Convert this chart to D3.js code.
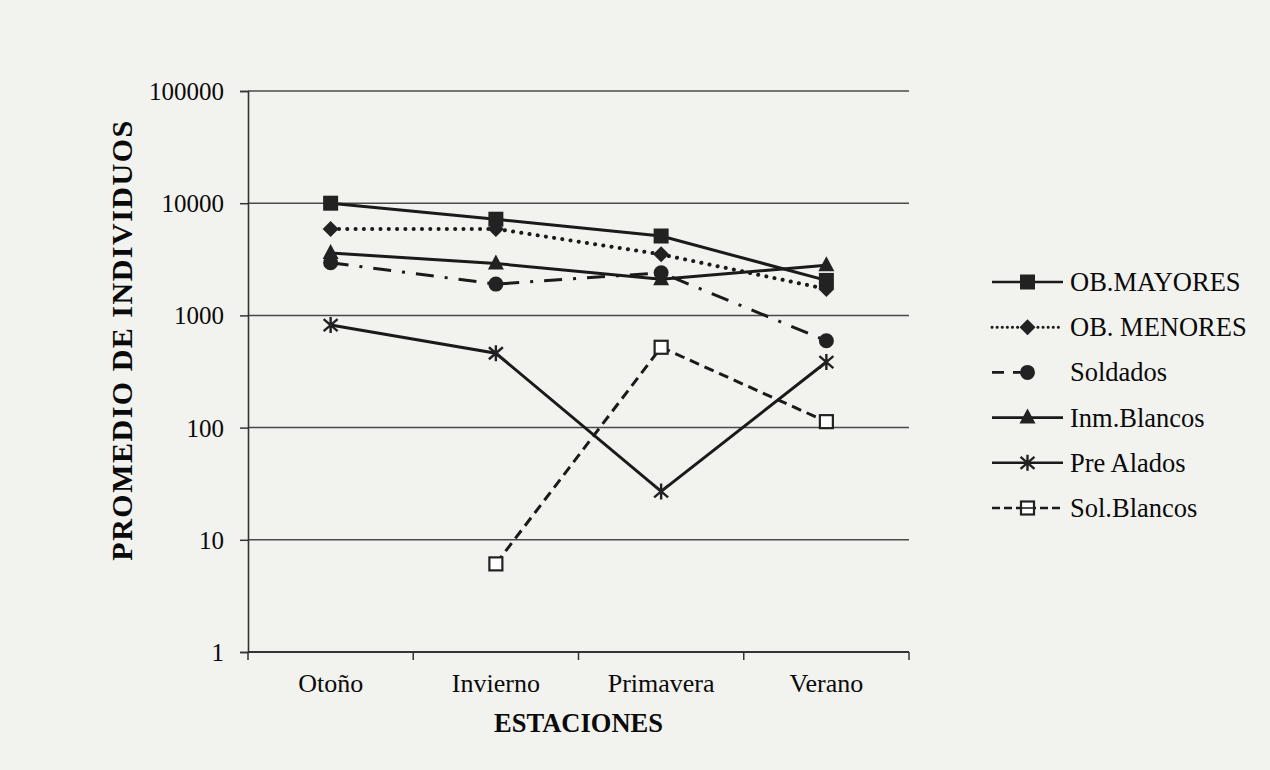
<!DOCTYPE html>
<html>
<head>
<meta charset="utf-8">
<script src="https://cdn.jsdelivr.net/npm/d3@7"></script>
<style>
  body { margin: 0; background: #f2f2ef; }
  svg { display: block; }
  text { font-family: "Liberation Serif", "Times New Roman", serif; fill: #0a0a0a; }
</style>
</head>
<body>
<svg id="chart" width="1270" height="770"></svg>
<script>
// data
const estaciones = ["Otoño", "Invierno", "Primavera", "Verano"];
const yTicks = [1, 10, 100, 1000, 10000, 100000];

const obMayores   = [10000, 7200, 5100, 2050];
const obMenores   = [5900, 5900, 3500, 1720];
const soldados    = [2950, 1900, 2400, 595];
const inmBlancos  = [3600, 2900, 2100, 2800];
const preAlados   = [820, 460, 27, 384];
const solBlancos  = [null, 6.1, 520, 113];

const series = [
  { name: "OB.MAYORES",  values: obMayores,  dash: null,          legendDash: null,              marker: "square" },
  { name: "OB. MENORES", values: obMenores,  dash: "0.1 8.2",     legendDash: "0.1 5",           marker: "diamond", round: true },
  { name: "Soldados",    values: soldados,   dash: "18 11 3 11",  legendDash: "12 9 0 0 14 100", marker: "circle" },
  { name: "Inm.Blancos", values: inmBlancos, dash: null,          legendDash: null,              marker: "triangle" },
  { name: "Pre Alados",  values: preAlados,  dash: null,          legendDash: null,              marker: "star" },
  { name: "Sol.Blancos", values: solBlancos, dash: "10 6",        legendDash: "8 4",             marker: "open" }
];

const svg = d3.select("#chart");
const plotLeft = 248, plotRight = 909, plotTop = 91, plotBottom = 652;

const x = d3.scaleBand().domain(estaciones).range([plotLeft, plotRight]);
const y = d3.scaleLog().domain([1, 100000]).range([plotBottom, plotTop]);

// grid lines
svg.append("g").selectAll("line")
  .data(yTicks.slice(1))
  .enter().append("line")
  .attr("x1", plotLeft).attr("x2", plotRight)
  .attr("y1", d => y(d)).attr("y2", d => y(d))
  .style("stroke", "#4a4a4a").style("stroke-width", 1.5);

// y axis
const yAxis = d3.axisLeft(y).tickValues(yTicks).tickFormat(d3.format("d")).tickSize(8).tickPadding(16);
const gy = svg.append("g").attr("transform", "translate(" + plotLeft + ",0)").call(yAxis);
gy.select(".domain").style("stroke", "#333").style("stroke-width", 1.6);
gy.selectAll(".tick line").style("stroke", "#333").style("stroke-width", 1.5);
gy.selectAll(".tick text").attr("dy", "0.34em").style("font-size", "25px")
  .style("font-family", "Liberation Serif").style("fill", "#0a0a0a");

// x axis, ticks between categories
const gx = svg.append("g").attr("transform", "translate(0," + plotBottom + ")");
gx.append("line").attr("x1", plotLeft).attr("x2", plotRight)
  .style("stroke", "#333").style("stroke-width", 1.8);
const edges = estaciones.map(d => x(d)).concat([plotRight]);
gx.selectAll(".edge").data(edges).enter().append("line")
  .attr("x1", d => d).attr("x2", d => d).attr("y1", 0).attr("y2", 8)
  .style("stroke", "#333").style("stroke-width", 1.5);
gx.selectAll(".lab").data(estaciones).enter().append("text")
  .attr("x", d => x(d) + x.bandwidth() / 2)
  .attr("y", 40)
  .attr("text-anchor", "middle")
  .style("font-size", "26px")
  .text(d => d);

// axis titles
svg.append("text")
  .attr("x", (plotLeft + plotRight) / 2).attr("y", 732)
  .attr("text-anchor", "middle")
  .style("font-size", "26.5px").style("font-weight", "bold")
  .text("ESTACIONES");
svg.append("text")
  .attr("transform", "translate(132,340) rotate(-90)")
  .attr("text-anchor", "middle")
  .style("font-size", "30px").style("font-weight", "bold")
  .style("letter-spacing", "1.5px")
  .text("PROMEDIO DE INDIVIDUOS");

// markers
function drawMarker(g, type, cx, cy) {
  if (type === "square") {
    g.append("rect").attr("x", cx - 7.5).attr("y", cy - 7.5).attr("width", 15).attr("height", 15)
      .style("fill", "#222");
  } else if (type === "diamond") {
    g.append("path").attr("transform", "translate(" + cx + "," + cy + ")")
      .attr("d", "M0,-8L8,0L0,8L-8,0Z").style("fill", "#222");
  } else if (type === "circle") {
    g.append("circle").attr("cx", cx).attr("cy", cy).attr("r", 7.5).style("fill", "#222");
  } else if (type === "triangle") {
    g.append("path").attr("transform", "translate(" + cx + "," + cy + ")")
      .attr("d", "M0,-9L8,6L-8,6Z").style("fill", "#222");
  } else if (type === "star") {
    g.append("path").attr("transform", "translate(" + cx + "," + cy + ")")
      .attr("d", "M0,-8V8M-7,-6L7,6M-7,6L7,-6")
      .style("stroke", "#222").style("stroke-width", 2.4).style("fill", "none");
  } else if (type === "open") {
    g.append("rect").attr("x", cx - 6.5).attr("y", cy - 6.5).attr("width", 13).attr("height", 13)
      .style("fill", "#fff").style("stroke", "#222").style("stroke-width", 2.2);
  }
}

const line = d3.line()
  .defined(d => d.v !== null)
  .x(d => x(d.c) + x.bandwidth() / 2)
  .y(d => y(d.v));

const plot = svg.append("g");
series.forEach(s => {
  const pts = s.values.map((v, i) => ({ c: estaciones[i], v: v }));
  plot.append("path")
    .datum(pts)
    .attr("d", line)
    .style("fill", "none")
    .style("stroke", "#1a1a1a")
    .style("stroke-width", s.round ? 4 : 3)
    .style("stroke-linecap", s.round ? "round" : "butt")
    .style("stroke-dasharray", s.dash);
});
series.forEach(s => {
  const g = plot.append("g");
  s.values.forEach((v, i) => {
    if (v === null) return;
    drawMarker(g, s.marker, x(estaciones[i]) + x.bandwidth() / 2, y(v));
  });
});

// legend
const legend = svg.append("g").attr("transform", "translate(992,282)");
series.forEach((s, i) => {
  const row = legend.append("g").attr("transform", "translate(0," + (i * 45.2) + ")");
  row.append("line").attr("x1", 0).attr("x2", 71).attr("y1", 0).attr("y2", 0)
    .style("stroke", "#1a1a1a")
    .style("stroke-width", s.round ? 3 : 2.6)
    .style("stroke-linecap", s.round ? "round" : "butt")
    .style("stroke-dasharray", s.legendDash);
  drawMarker(row, s.marker, 35.5, 0);
  if (s.marker === "open") {
    row.append("line").attr("x1", 29).attr("x2", 42).attr("y1", 0).attr("y2", 0)
      .style("stroke", "#222").style("stroke-width", 1.6);
  }
  row.append("text").attr("x", 78).attr("y", 9)
    .style("font-size", "26.5px")
    .text(s.name);
});
</script>
</body>
</html>
